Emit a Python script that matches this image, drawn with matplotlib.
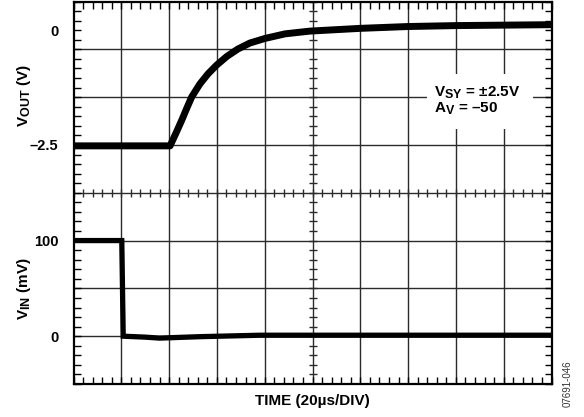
import matplotlib
matplotlib.use("Agg")
import matplotlib.pyplot as plt
import matplotlib._mathtext as _mt
from matplotlib.patches import Rectangle
from matplotlib.ticker import MultipleLocator
import numpy as np

# Slightly larger subscripts than the mathtext default
_mt.SHRINK_FACTOR = 0.82

plt.rcParams["font.family"] = ["Liberation Sans", "DejaVu Sans"]
plt.rcParams["font.weight"] = "bold"
plt.rcParams["mathtext.fontset"] = "custom"
plt.rcParams["mathtext.rm"] = "Liberation Sans:bold"
plt.rcParams["mathtext.it"] = "Liberation Sans:bold"
plt.rcParams["mathtext.bf"] = "Liberation Sans:bold"

# ---- data -------------------------------------------------------------
# output voltage (V) versus time (µs)
vout_t = [0, 40.4, 42.9, 45.3, 47.4, 49.5, 52.9, 56.3, 59.9, 64.2, 68.8,
          73.8, 80.1, 88.5, 98.9, 120, 140, 160, 180, 200]
vout_v = [-2.52, -2.52, -2.24, -1.96, -1.70, -1.45, -1.17, -0.95, -0.76,
          -0.57, -0.41, -0.28, -0.18, -0.08, -0.02, 0.04, 0.08, 0.10,
          0.11, 0.12]

# input voltage (mV) versus time (µs)
vin_t = [0, 20.2, 20.8, 30, 36, 53, 78, 200]
vin_mv = [100, 100, 0, -1, -2, -0.5, 1, 1]

vout_ticks = [0, -2.5]
vout_tick_labels = ["0", "–2.5"]
vin_ticks = [100, 0]
vin_tick_labels = ["100", "0"]

# ---- scope screen scaling (10 x 8 divisions) ---------------------------
US_PER_DIV = 20.0
MV_PER_DIV = 50.0
VIN_ZERO_DIV = 1.0
VOUT_REF_DIV = 5.0      # division where -2.5 V sits
VOUT_DIV_PER_V = 0.96


def t_div(t):
    return np.asarray(t, float) / US_PER_DIV


def vout_div(v):
    return VOUT_REF_DIV + VOUT_DIV_PER_V * (np.asarray(v, float) + 2.5)


def vin_div(mv):
    return VIN_ZERO_DIV + np.asarray(mv, float) / MV_PER_DIV


W, H = 584, 417
fig = plt.figure(figsize=(W / 100, H / 100), dpi=100)
L, R, T, B = 73.5, 551.5, 1.5, 384.0
ax = fig.add_axes([L / W, 1 - B / H, (R - L) / W, (B - T) / H])
ax.set_xlim(0, 10)
ax.set_ylim(0, 8)

grid_kw = dict(color="#2b2b2b", lw=1.0, zorder=1)
for x in range(1, 10):
    ax.axvline(x, **grid_kw)
for y in range(1, 8):
    ax.axhline(y, **grid_kw)

# minor division marks along the centre cross
ax.plot(np.full(41, 5.0), np.arange(41) * 0.2, ls="none", marker="_",
        ms=6, mew=1.0, color="#2b2b2b", zorder=1)
ax.plot(np.arange(51) * 0.2, np.full(51, 4.0), ls="none", marker="|",
        ms=6, mew=1.0, color="#2b2b2b", zorder=1)

for s in ax.spines.values():
    s.set_linewidth(1.6)
    s.set_color("black")

ax.xaxis.set_minor_locator(MultipleLocator(0.2))
ax.yaxis.set_minor_locator(MultipleLocator(0.2))
ax.set_xticks([])
yt = list(vout_div(vout_ticks)) + list(vin_div(vin_ticks))
ax.set_yticks(yt, vout_tick_labels + vin_tick_labels)
ax.tick_params(which="both", direction="in", length=5, width=1.0,
               top=True, bottom=True, left=True, right=True,
               labelsize=10.5, pad=11, color="black")
for lab in ax.get_yticklabels():
    lab.set_fontweight("bold")

# traces
ax.plot(t_div(vout_t), vout_div(vout_v), color="black", lw=5.0,
        solid_joinstyle="round", solid_capstyle="butt", zorder=3)
ax.plot(t_div(vin_t), vin_div(vin_mv), color="black", lw=3.8,
        solid_joinstyle="miter", solid_capstyle="butt", zorder=3)

# condition box
ax.add_patch(Rectangle((7.39, 5.33), 2.22, 1.16, facecolor="white",
                       edgecolor="none", zorder=2))
ax.text(7.55, 5.92, "V$_{\\mathrm{SY}}$ = ±2.5V\nA$_{\\mathrm{V}}$ = –50",
        fontsize=11, fontweight="bold", ha="left", va="center",
        linespacing=1.0, zorder=4)

# axis titles
fig.text(24 / W, 1 - 96 / H, "V$_{\\mathrm{OUT}}$ (V)", rotation=90,
         ha="center", va="center", fontsize=11, fontweight="bold")
fig.text(24 / W, 1 - 289 / H, "V$_{\\mathrm{IN}}$ (mV)", rotation=90,
         ha="center", va="center", fontsize=11, fontweight="bold")
fig.text(312 / W, 1 - 401 / H, "TIME (20µs/DIV)", ha="center",
         va="center", fontsize=11, fontweight="bold")
fig.text(568 / W, 1 - 384 / H, "07691-046", rotation=90, ha="center",
         va="center", fontsize=7, fontweight="normal", color="#333333")

fig.savefig("out.png", dpi=100)
